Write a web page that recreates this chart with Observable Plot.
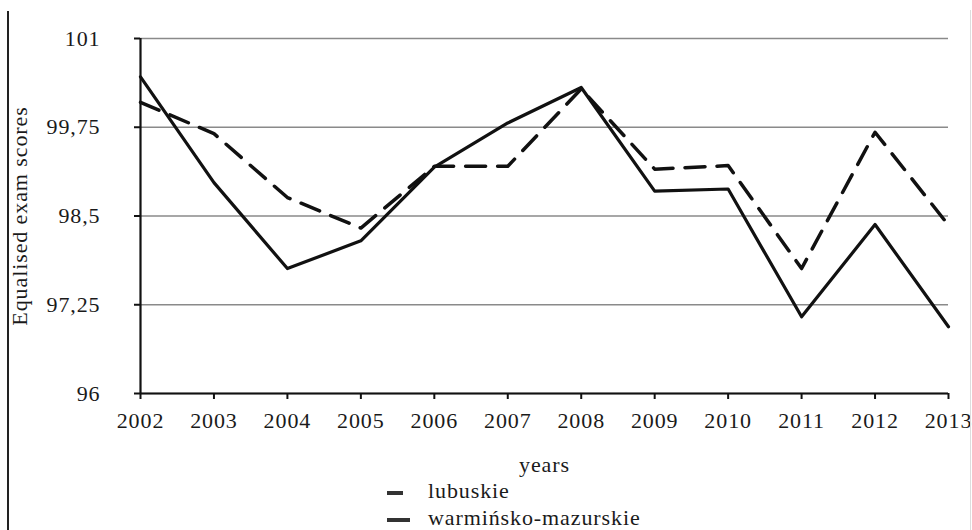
<!DOCTYPE html>
<html>
<head>
<meta charset="utf-8">
<script src="https://cdn.jsdelivr.net/npm/d3@7"></script>
<script src="https://cdn.jsdelivr.net/npm/@observablehq/plot@0.6"></script>
<style>
  html, body { margin: 0; padding: 0; background: #fff; }
  #wrap { position: relative; width: 972px; height: 530px; overflow: hidden; font-family: "Liberation Serif", serif; color: #1a1a1a; }
  #wrap svg { position: absolute; left: 0; top: 0; }
  .legend { position: absolute; left: 387px; font-size: 22px; letter-spacing: 0.9px; line-height: 1; }
  .legend .row { position: absolute; left: 0; white-space: nowrap; }
  .legend .sw { position: absolute; left: 0; height: 4px; background: #333; }
  .legend .lab { position: absolute; left: 41px; }
</style>
</head>
<body>
<div id="wrap"></div>
<script>
const years = [2002, 2003, 2004, 2005, 2006, 2007, 2008, 2009, 2010, 2011, 2012, 2013];
const lubuskie = [100.10, 99.66, 98.76, 98.33, 99.20, 99.20, 100.29, 99.16, 99.21, 97.76, 99.68, 98.37];
const warminskoMazurskie = [100.46, 98.97, 97.76, 98.15, 99.19, 99.81, 100.31, 98.85, 98.88, 97.08, 98.38, 96.94];
const yTicks = [96, 97.25, 98.5, 99.75, 101];
const seriesNames = ["lubuskie", "warmińsko-mazurskie"];

const rows = [];
years.forEach((yr, i) => {
  rows.push({year: yr, value: lubuskie[i], series: seriesNames[0]});
  rows.push({year: yr, value: warminskoMazurskie[i], series: seriesNames[1]});
});
const fmt = d => String(d).replace(".", ",");

const chart = Plot.plot({
  width: 972,
  height: 530,
  marginTop: 38,
  marginBottom: 137,
  marginLeft: 140,
  marginRight: 24,
  style: {fontFamily: "Liberation Serif, serif", fontSize: "22px", color: "#1a1a1a", background: "transparent"},
  x: {domain: [2002, 2013]},
  y: {domain: [96, 101]},
  marks: [
    Plot.gridY(yTicks, {stroke: "#8a8a8a", strokeOpacity: 1, strokeWidth: 1.5}),
    Plot.axisY(yTicks, {tickFormat: fmt, tickSize: 6, tickPadding: 34, strokeWidth: 2, stroke: "#111",
      label: "Equalised exam scores", labelAnchor: "center", labelOffset: 129, labelArrow: "none"}),
    Plot.axisX(years, {tickFormat: "d", tickSize: 6, tickPadding: 13, strokeWidth: 2, stroke: "#111",
      label: "years", labelAnchor: "center", labelOffset: 78, labelArrow: "none"}),
    Plot.lineY(rows.filter(d => d.series === seriesNames[0]), {x: "year", y: "value", stroke: "#111", strokeWidth: 3.5, strokeDasharray: "20,12"}),
    Plot.lineY(rows.filter(d => d.series === seriesNames[1]), {x: "year", y: "value", stroke: "#111", strokeWidth: 3.2}),
    Plot.ruleX([2002], {y1: 96, y2: 101, stroke: "#111", strokeWidth: 2.2}),
    Plot.ruleY([96], {x1: 2002, x2: 2013, stroke: "#111", strokeWidth: 2.2})
  ]
});
chart.querySelectorAll("text").forEach(t => t.setAttribute("letter-spacing", "0.9"));
const wrap = document.getElementById("wrap");
wrap.appendChild(chart);

// frame lines of the original picture
const leftBorder = document.createElement("div");
leftBorder.style.cssText = "position:absolute;left:7px;top:11px;width:2px;height:530px;background:#222;";
wrap.appendChild(leftBorder);
const rightBorder = document.createElement("div");
rightBorder.style.cssText = "position:absolute;left:970px;top:10px;width:1px;height:530px;background:#ddd;";
wrap.appendChild(rightBorder);

// legend
const legend = document.createElement("div");
legend.className = "legend";
legend.style.top = "480px";
const styles = [{top: 0, w: 16}, {top: 27, w: 23}];
seriesNames.forEach((name, i) => {
  const row = document.createElement("div");
  row.className = "row";
  row.style.top = styles[i].top + "px";
  const sw = document.createElement("div");
  sw.className = "sw";
  sw.style.width = styles[i].w + "px";
  sw.style.top = "11px";
  const lab = document.createElement("div");
  lab.className = "lab";
  lab.textContent = name;
  row.appendChild(sw);
  row.appendChild(lab);
  legend.appendChild(row);
});
wrap.appendChild(legend);
</script>
</body>
</html>
